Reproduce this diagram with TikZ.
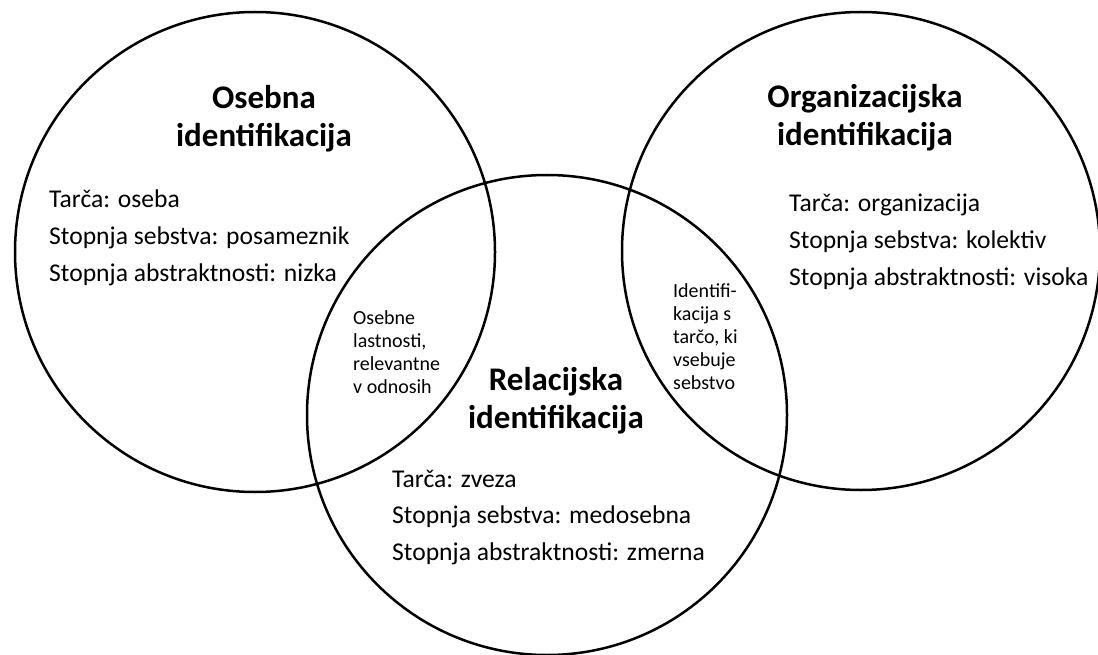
\documentclass[tikz,border=0pt]{standalone}
\usepackage{fontspec}
\setmainfont{Carlito}
\newcommand\tlines[2]{\begin{tabular}[t]{@{}#1@{}}#2\end{tabular}}
\begin{document}
\begin{tikzpicture}[x=1pt,y=-1pt,
  ring/.style={draw=black,line width=2.5pt},
  title/.style={inner sep=0pt,anchor=base,font=\fontsize{33}{38}\bfseries\selectfont},
  body/.style={inner sep=0pt,anchor=base west,font=\fontsize{25.6}{36.8}\selectfont},
  small/.style={inner sep=0pt,anchor=base west,font=\fontsize{20}{23}\selectfont}]
\useasboundingbox (0,0) rectangle (1098,655);
\draw[ring] (255,252) circle[radius=240pt];
\draw[ring] (861,251) circle[radius=239pt];
\draw[ring] (547,415) circle[radius=240pt];

\node[title] (t1) at (264,109) {\tlines{c}{Osebna\\identifikacija}};
\node[title] (t2) at (865,108) {\tlines{c}{Organizacijska\\identifikacija}};
\node[title] (t3) at (556,390) {\tlines{c}{Relacijska\\identifikacija}};

\node[body] (b1) at (49,208) {\tlines{l}{Tarča: oseba\\Stopnja sebstva: posameznik\\Stopnja abstraktnosti: nizka}};
\node[body] (b2) at (789,212) {\tlines{l}{Tarča: organizacija\\Stopnja sebstva: kolektiv\\Stopnja abstraktnosti: visoka}};
\node[body] (b3) at (392,487) {\tlines{l}{Tarča: zveza\\Stopnja sebstva: medosebna\\Stopnja abstraktnosti: zmerna}};

\node[small] (s1) at (353,324) {\tlines{l}{Osebne\\lastnosti,\\relevantne\\v odnosih}};
\node[small] (s2) at (673,298) {\tlines{l}{Identifi-\\kacija s\\tarčo, ki\\vsebuje\\sebstvo}};
\end{tikzpicture}
\end{document}
